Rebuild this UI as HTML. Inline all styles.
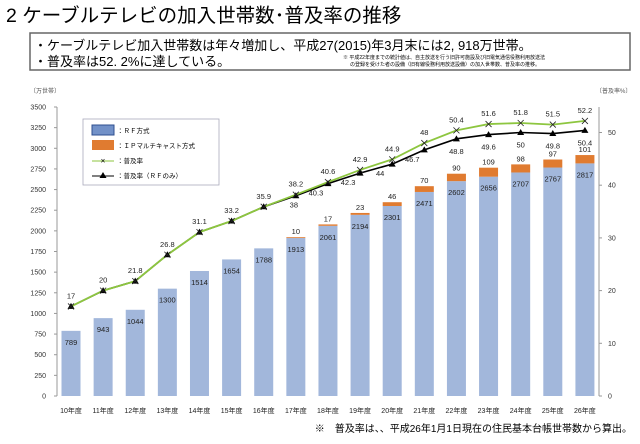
<!DOCTYPE html>
<html><head><meta charset="utf-8">
<style>
body{margin:0;width:640px;height:439px;background:#fff;overflow:hidden;font-family:"Liberation Sans","Noto Sans CJK JP",sans-serif;}
svg text{font-family:"Liberation Sans","Noto Sans CJK JP",sans-serif;}
</style></head><body>
<svg id="c" width="640" height="439" xmlns="http://www.w3.org/2000/svg">
<text x="6" y="22" font-size="19.5" fill="#000">2  ケーブルテレビの加入世帯数･普及率の推移</text>
<rect x="30" y="33" width="600" height="37" fill="#fff" stroke="#666" stroke-width="1.5"/>
<text x="34" y="50" font-size="13">・ケーブルテレビ加入世帯数は年々増加し、平成27(2015)年3月末には2, 918万世帯。</text>
<text x="34" y="66" font-size="13">・普及率は52. 2%に達している。</text>
<text x="343" y="59" font-size="5">※ 平成22年度までの統計値は、自主放送を行う旧許可施設及び旧電気通信役務利用放送法</text>
<text x="350" y="66" font-size="5">の登録を受けた者の設備（旧有線役務利用放送設備）の加入世帯数、普及率の推移。</text>
<text x="30" y="93" font-size="6" fill="#555">〔万世帯〕</text>
<text x="596" y="93" font-size="6" fill="#555">〔普及率%〕</text>
<g id="axes"></g><g id="bars"></g><g id="lines"></g>
<g>
<rect x="83" y="119" width="136" height="66" fill="#fff" stroke="#aab" stroke-width="0.8"/>
<rect x="92" y="125" width="22" height="10" fill="#7291c8" stroke="#2f4f8f"/>
<text x="117" y="133" font-size="6.5">：ＲＦ方式</text>
<rect x="92" y="140" width="22" height="10" fill="#e07b30"/>
<text x="117" y="148" font-size="6.5">：ＩＰマルチキャスト方式</text>
<line x1="92" y1="161" x2="114" y2="161" stroke="#8dc63f" stroke-width="1"/><text x="103" y="163.5" font-size="8" text-anchor="middle">×</text>
<text x="117" y="163" font-size="6.5">：普及率</text>
<line x1="92" y1="176" x2="114" y2="176" stroke="#000" stroke-width="1"/><path d="M103 172 L106.5 178 L99.5 178Z" fill="#000"/>
<text x="117" y="178" font-size="6.5">：普及率（ＲＦのみ）</text>
</g>
<text x="632" y="432" font-size="10" text-anchor="end">※　普及率は、、平成26年1月1日現在の住民基本台帳世帯数から算出。</text>
</svg>
<script>
const categories=["10年度","11年度","12年度","13年度","14年度","15年度","16年度","17年度","18年度","19年度","20年度","21年度","22年度","23年度","24年度","25年度","26年度"];
const rfValues=[789,943,1044,1300,1514,1654,1788,1913,2061,2194,2301,2471,2602,2656,2707,2767,2817];
const ipValues=[0,0,0,0,0,0,0,10,17,23,46,70,90,109,98,97,101];
const rateTotal=[17,20,21.8,26.8,31.1,33.2,35.9,38.2,40.6,42.9,44.9,48,50.4,51.6,51.8,51.5,52.2];
const rateRF=[17,20,21.8,26.8,31.1,33.2,35.9,38,40.3,42.3,44,46.7,48.8,49.6,50,49.8,50.4];
const leftTicks=[0,250,500,750,1000,1250,1500,1750,2000,2250,2500,2750,3000,3250,3500];
const rightTicks=[0,10,20,30,40,50];
const NS="http://www.w3.org/2000/svg";
const y0=396, yL=v=>y0-v*(289/3500), yR=v=>y0-v*5.27, xC=i=>71+i*32.12;
function el(p,t,a){const e=document.createElementNS(NS,t);for(const k in a)e.setAttribute(k,a[k]);p.appendChild(e);return e;}
const ax=document.getElementById('axes'),bg=document.getElementById('bars'),lg=document.getElementById('lines');
let a=el(ax,'line',{x1:57,y1:yL(3500),x2:57,y2:y0,stroke:'#999'});


a=el(ax,'line',{x1:599,y1:yL(3500),x2:599,y2:y0,stroke:'#999'});


leftTicks.forEach(v=>{el(ax,'line',{x1:54,y1:yL(v),x2:57,y2:yL(v),stroke:'#999'});
 const t=el(ax,'text',{x:46,y:yL(v)+2.5,'font-size':7,'text-anchor':'end',fill:'#333'});t.textContent=v;
 
 });
rightTicks.forEach(v=>{el(ax,'line',{x1:599,y1:yR(v),x2:602,y2:yR(v),stroke:'#999'});
 const t=el(ax,'text',{x:608,y:yR(v)+2.5,'font-size':7,fill:'#333'});t.textContent=v;
 
 });
categories.forEach((c,i)=>{const x=xC(i);
 const t=el(ax,'text',{x:x,y:413,'font-size':7,'text-anchor':'middle',fill:'#222'});t.textContent=c;
 
 
 const r=el(bg,'rect',{x:x-9.5,y:yL(rfValues[i]),width:19,height:y0-yL(rfValues[i]),fill:'#a2b7db'});
 
 
 const l=el(bg,'text',{x:x,y:yL(rfValues[i])+14,'font-size':7.5,'text-anchor':'middle',fill:'#222'});l.textContent=rfValues[i];
 
 
 if(ipValues[i]>0){const top=yL(rfValues[i]+ipValues[i]);
  const q=el(bg,'rect',{x:x-9.5,y:top,width:19,height:yL(rfValues[i])-top,fill:'#e07b30'});
  
  
  const m=el(bg,'text',{x:x,y:top-3,'font-size':7.5,'text-anchor':'middle',fill:'#222'});m.textContent=ipValues[i];
  
  }
});
let p=el(lg,'polyline',{points:rateRF.map((v,i)=>xC(i)+','+yR(v)).join(' '),fill:'none',stroke:'#000','stroke-width':1.6});


p=el(lg,'polyline',{points:rateTotal.map((v,i)=>xC(i)+','+yR(v)).join(' '),fill:'none',stroke:'#8dc63f','stroke-width':1.8});


rateRF.forEach((v,i)=>{const x=xC(i),y=yR(v);
 const m=el(lg,'path',{d:`M${x} ${y-3.5}L${x+3.5} ${y+2.5}L${x-3.5} ${y+2.5}Z`,fill:'#000'});
 
 
 if(i>=7){const t=el(lg,'text',{x:x-(i==7?2:(i<=11?12:0)),y:y+(i<=11?12:15),'font-size':7.5,'text-anchor':'middle',fill:'#222'});t.textContent=v;
  
  }});
rateTotal.forEach((v,i)=>{const x=xC(i),y=yR(v);
 const m=el(lg,'path',{d:`M${x-3} ${y-3}L${x+3} ${y+3}M${x+3} ${y-3}L${x-3} ${y+3}`,stroke:'#222','stroke-width':0.8});
 
 
 const t=el(lg,'text',{x:x,y:y-8,'font-size':7.5,'text-anchor':'middle',fill:'#222'});t.textContent=v;
 
 });
</script>
</body></html>
